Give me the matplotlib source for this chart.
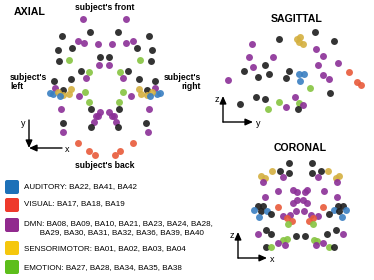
import matplotlib
matplotlib.use("Agg")
import matplotlib.pyplot as plt
from matplotlib.patches import FancyBboxPatch

plt.rcParams["font.family"] = ["Liberation Sans", "DejaVu Sans"]

# network colours (dots) and legend swatches
dot_colors = {"B": "#3a7fc1", "R": "#e85a3a", "P": "#8b2f97",
              "Y": "#d4b040", "G": "#86c440", "K": "#1e1e1e"}
legend_colors = ["#1d71b8", "#ee3a2c", "#912a8e", "#f5c70e", "#5dbe1b"]
legend_labels = [
    "AUDITORY: BA22, BA41, BA42",
    "VISUAL: BA17, BA18, BA19",
    "DMN: BA08, BA09, BA10, BA21, BA23, BA24, BA28,\n       BA29, BA30, BA31, BA32, BA36, BA39, BA40",
    "SENSORIMOTOR: BA01, BA02, BA03, BA04",
    "EMOTION: BA27, BA28, BA34, BA35, BA38",
]

# electrode positions per view (figure pixel units)
axial_pts = [
    (83, 19, "P"), (126, 19, "P"),
    (62, 36, "K"), (90, 32, "K"), (118, 32, "K"), (149, 36, "K"),
    (78, 41, "P"), (84, 43, "P"), (98, 44, "P"), (112, 44, "P"), (126, 43, "P"), (133, 41, "P"),
    (58, 50, "K"), (72, 48, "K"), (137, 48, "K"), (152, 50, "K"),
    (100, 57, "K"), (109, 57, "K"), (99, 65, "P"), (109, 65, "P"),
    (59, 61, "K"), (69, 60, "G"), (140, 60, "G"), (151, 61, "K"),
    (81, 71, "K"), (89, 72, "G"), (120, 72, "G"), (128, 71, "K"),
    (54, 81, "K"), (71, 79, "K"), (86, 78, "P"), (123, 78, "P"), (139, 79, "K"), (155, 81, "K"),
    (55, 88, "P"), (63, 90, "K"), (50, 93, "B"), (53, 94, "B"), (58, 92, "Y"), (63, 95, "Y"),
    (60, 96, "B"), (69, 94, "Y"), (71, 89, "Y"),
    (155, 88, "P"), (147, 90, "K"), (160, 93, "B"), (157, 94, "B"), (152, 92, "Y"), (147, 95, "Y"),
    (150, 96, "B"), (141, 94, "Y"), (139, 89, "Y"),
    (85, 92, "G"), (79, 96, "P"), (123, 92, "G"), (131, 96, "P"),
    (61, 109, "P"), (89, 102, "G"), (91, 109, "K"), (119, 102, "G"), (119, 109, "K"), (149, 109, "P"),
    (100, 112, "P"), (98, 116, "P"), (96, 116, "P"), (109, 112, "P"), (112, 116, "P"), (114, 116, "P"),
    (94, 122, "P"), (116, 122, "P"),
    (63, 123, "K"), (91, 127, "K"), (118, 127, "K"), (146, 123, "K"),
    (63, 132, "P"), (148, 132, "P"),
    (78, 143, "R"), (133, 143, "R"), (89, 151, "R"), (95, 155, "R"), (115, 155, "R"), (120, 151, "R"),
]

sagittal_pts = [
    (315, 32, "K"), (279, 39, "K"), (297, 39, "Y"), (300, 37, "Y"), (299, 42, "Y"), (303, 44, "Y"),
    (334, 41, "K"),
    (252, 44, "P"), (316, 49, "P"), (323, 56, "P"), (249, 57, "P"), (273, 57, "P"), (338, 63, "P"),
    (318, 65, "P"), (265, 65, "K"), (253, 67, "P"),
    (244, 71, "K"), (289, 71, "K"), (269, 74, "K"), (258, 77, "K"), (286, 78, "K"),
    (299, 74, "B"), (304, 74, "B"), (300, 81, "B"),
    (349, 72, "R"), (323, 75, "P"), (329, 79, "P"), (228, 80, "P"), (357, 82, "R"), (361, 85, "R"),
    (310, 88, "G"), (330, 93, "K"),
    (256, 97, "K"), (265, 99, "K"), (295, 97, "P"), (240, 104, "K"), (279, 102, "G"),
    (299, 103, "G"), (303, 105, "P"), (286, 107, "P"), (268, 109, "G"), (298, 109, "K"),
]

coronal_pts = [
    (289, 163, "K"), (312, 163, "K"),
    (272, 171, "Y"), (280, 171, "K"), (289, 173, "K"), (312, 173, "K"), (321, 171, "K"), (328, 171, "Y"),
    (261, 176, "Y"), (265, 178, "Y"), (283, 177, "P"), (318, 177, "P"), (339, 176, "Y"), (336, 178, "Y"),
    (263, 182, "P"), (337, 182, "P"),
    (278, 191, "P"), (293, 190, "P"), (297, 192, "P"), (305, 192, "P"), (307, 190, "P"), (324, 191, "P"),
    (265, 197, "P"), (337, 197, "P"),
    (297, 200, "P"), (303, 200, "P"), (293, 203, "P"), (307, 203, "P"),
    (258, 206, "K"), (263, 206, "K"), (254, 210, "B"), (261, 211, "K"), (267, 211, "B"),
    (259, 217, "B"), (271, 214, "K"),
    (278, 207, "R"), (323, 207, "R"),
    (296, 211, "P"), (304, 211, "P"), (290, 215, "P"), (311, 215, "P"), (283, 216, "P"), (318, 216, "P"),
    (338, 206, "K"), (343, 206, "K"), (334, 210, "B"), (339, 211, "K"), (346, 210, "B"),
    (329, 214, "K"), (342, 217, "B"),
    (287, 218, "R"), (292, 221, "R"), (288, 224, "G"), (309, 221, "R"), (313, 218, "R"), (313, 224, "G"),
    (266, 230, "K"), (258, 234, "P"), (271, 234, "K"), (296, 236, "K"), (305, 236, "K"),
    (327, 234, "K"), (336, 230, "K"), (343, 234, "P"),
    (283, 240, "G"), (287, 239, "G"), (314, 240, "G"), (317, 241, "G"),
    (278, 243, "P"), (285, 245, "P"), (323, 243, "P"), (316, 245, "P"),
    (266, 247, "K"), (271, 247, "G"), (329, 247, "G"), (334, 247, "K"),
]


def draw_points(ax, pts):
    for x, y, net in pts:
        ax.scatter(x, y, s=25, color=dot_colors[net], alpha=0.9, linewidths=0, zorder=3)


def draw_axes_arrows(ax, corner, dx, dy, hlabel, vlabel, into_corner=False):
    cx, cy = corner
    kw = dict(arrowstyle="-|>,head_length=0.45,head_width=0.2", color="black", lw=1.0,
              shrinkA=0, shrinkB=0)
    if into_corner:
        ax.annotate("", xy=(cx, cy), xytext=(cx + dx, cy), arrowprops=kw)
        ax.annotate("", xy=(cx, cy), xytext=(cx, cy - dy), arrowprops=kw)
    else:
        ax.annotate("", xy=(cx + dx, cy), xytext=(cx, cy), arrowprops=kw)
        ax.annotate("", xy=(cx, cy - dy), xytext=(cx, cy), arrowprops=kw)
    ax.text(cx + dx + 3, cy + 1, hlabel, fontsize=6.5, va="center", ha="left")
    ax.text(cx - 4, cy - dy + 3, vlabel, fontsize=6.5, va="center", ha="right")


fig = plt.figure(figsize=(3.74, 2.80), dpi=100)
ax = fig.add_axes([0, 0, 1, 1])
ax.set_xlim(0, 374)
ax.set_ylim(280, 0)
ax.axis("off")

draw_points(ax, axial_pts)
draw_points(ax, sagittal_pts)
draw_points(ax, coronal_pts)

bold = dict(fontweight="bold")
ax.text(14, 12, "AXIAL", fontsize=7.7, va="center", ha="left", **bold)
ax.text(297, 19, "SAGITTAL", fontsize=7.6, va="center", ha="center", **bold)
ax.text(300, 148, "CORONAL", fontsize=7.6, va="center", ha="center", **bold)

ax.text(105, 8, "subject's front", fontsize=6.2, va="center", ha="center", **bold)
ax.text(105, 166, "subject's back", fontsize=6.2, va="center", ha="center", **bold)
ax.text(10, 82, "subject's\nleft", fontsize=6.2, va="center", ha="left",
        multialignment="left", linespacing=1.0, **bold)
ax.text(201, 82, "subject's\nright", fontsize=6.2, va="center", ha="right",
        multialignment="right", linespacing=1.0, **bold)

draw_axes_arrows(ax, (29, 148), 33, 28, "x", "y", into_corner=True)
draw_axes_arrows(ax, (223, 122), 30, 26, "y", "z")
draw_axes_arrows(ax, (238, 258), 29, 26, "x", "z")

# legend
box_y = [179, 197, 217, 240, 259]
text_y = [187, 204, 228, 249, 268]
for c, lab, by, ty in zip(legend_colors, legend_labels, box_y, text_y):
    ax.add_patch(FancyBboxPatch((5, by + 1), 14, 14, boxstyle="round,pad=0,rounding_size=2",
                                facecolor=c, edgecolor="none"))
    ax.text(24, ty, lab, fontsize=5.8, va="center", ha="left", linespacing=1.25)

fig.savefig("out.png", dpi=100)
